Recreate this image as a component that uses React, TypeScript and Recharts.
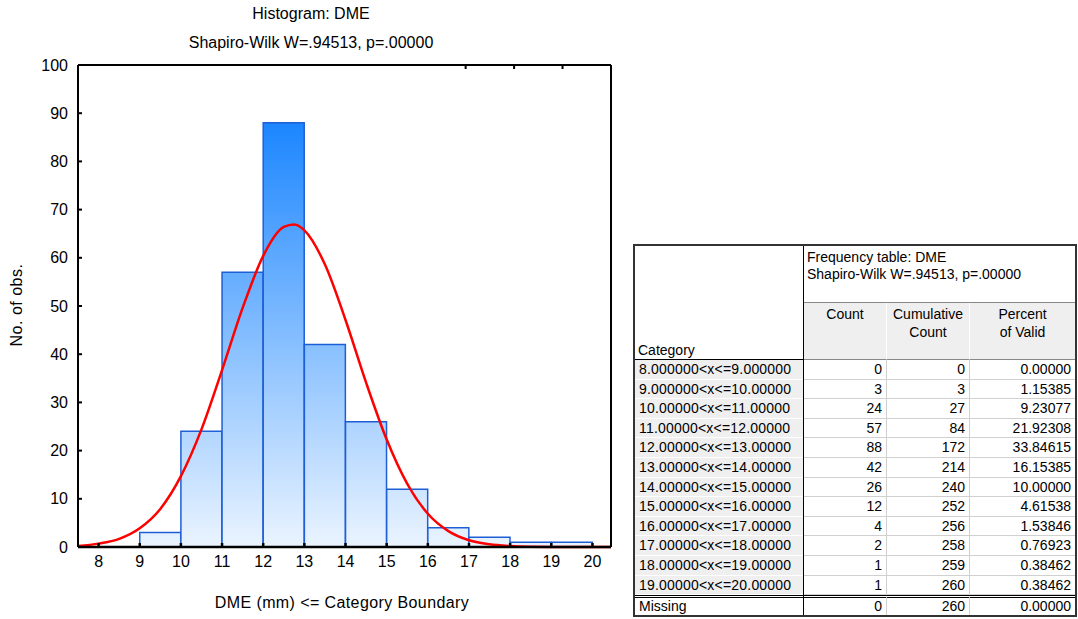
import { Bar, ComposedChart, Line, XAxis, YAxis } from "recharts";

// histogram bins (lower boundary), counts
const binStarts = [8, 9, 10, 11, 12, 13, 14, 15, 16, 17, 18, 19];
const counts = [0, 3, 24, 57, 88, 42, 26, 12, 4, 2, 1, 1];
const cumulative = [0, 3, 27, 84, 172, 214, 240, 252, 256, 258, 259, 260];
const percentValid = [
	"0.00000", "1.15385", "9.23077", "21.92308", "33.84615", "16.15385",
	"10.00000", "4.61538", "1.53846", "0.76923", "0.38462", "0.38462",
];
const categoryLabels = [
	"8.000000<x<=9.000000",
	"9.000000<x<=10.00000",
	"10.00000<x<=11.00000",
	"11.00000<x<=12.00000",
	"12.00000<x<=13.00000",
	"13.00000<x<=14.00000",
	"14.00000<x<=15.00000",
	"15.00000<x<=16.00000",
	"16.00000<x<=17.00000",
	"17.00000<x<=18.00000",
	"18.00000<x<=19.00000",
	"19.00000<x<=20.00000",
];
const missing = { count: 0, cumulative: 260, percent: "0.00000" };

// fitted normal curve
const curveX = [7.5, 8, 8.5, 9, 9.5, 10, 10.5, 11, 11.5, 12, 12.5, 12.75, 13, 13.5, 14, 14.5, 15, 15.5, 16, 16.5, 17, 17.5, 18, 18.5, 19, 19.5, 20, 20.45];
const curveY = [0.2, 0.7, 1.7, 3.9, 7.9, 14.7, 24.4, 36.7, 49.6, 60.4, 66.4, 66.9, 65.7, 58.6, 47.1, 34.1, 22.3, 13.1, 6.9, 3.3, 1.4, 0.55, 0.2, 0.06, 0.02, 0, 0, 0];

const xTicks = [8, 9, 10, 11, 12, 13, 14, 15, 16, 17, 18, 19, 20];
const yTicks = [0, 10, 20, 30, 40, 50, 60, 70, 80, 90, 100];

const X_MIN = 7.5;
const X_MAX = 20.45;

const CHART_W = 620;
const CHART_H = 619;
const PLOT_LEFT = 78;
const PLOT_RIGHT = 611;
const PLOT_TOP = 65;
const PLOT_BOTTOM = 547;

const FONT = "'Liberation Sans', Arial, sans-serif";

const bins = binStarts.map((b, i) => ({ bin: `${b}`, count: counts[i] }));
const curve = curveX.map((x, i) => ({ x, y: curveY[i] }));

const pxPerUnit = (PLOT_RIGHT - PLOT_LEFT) / (X_MAX - X_MIN);
const padLeft = (binStarts[0] - X_MIN) * pxPerUnit;
const padRight = (X_MAX - (binStarts[binStarts.length - 1] + 1)) * pxPerUnit;

const blank = () => "";

function Histogram() {
	return (
		<ComposedChart
			width={CHART_W}
			height={CHART_H}
			data={bins}
			barCategoryGap={0}
			barGap={0}
			margin={{
				top: PLOT_TOP - 1,
				right: CHART_W - PLOT_RIGHT - 1,
				bottom: CHART_H - PLOT_BOTTOM - 30,
				left: 0,
			}}
		>
			<defs>
				<linearGradient
					id="barFill"
					x1="0"
					y1={PLOT_TOP}
					x2="0"
					y2={PLOT_BOTTOM}
					gradientUnits="userSpaceOnUse"
				>
					<stop offset="0%" stopColor="#0077ff" />
					<stop offset="100%" stopColor="#eaf4ff" />
				</linearGradient>
			</defs>
			<XAxis
				xAxisId="num"
				dataKey="x"
				type="number"
				domain={[X_MIN, X_MAX]}
				ticks={xTicks}
				interval={0}
				allowDataOverflow
				height={30}
				tickSize={-4}
				tickMargin={13}
				stroke="#000"
				strokeWidth={2.5}
				tick={{ fill: "#000", fontSize: 16, fontFamily: FONT }}
			/>
			<XAxis
				xAxisId="bins"
				dataKey="bin"
				type="category"
				hide
				height={0}
				padding={{ left: padLeft, right: padRight }}
			/>
			<XAxis
				xAxisId="top"
				orientation="top"
				type="number"
				domain={[X_MIN, X_MAX]}
				ticks={xTicks}
				interval={0}
				allowDataOverflow
				height={1}
				tickSize={-4}
				tickFormatter={blank}
				stroke="#000"
				strokeWidth={2}
			/>
			<YAxis
				yAxisId="left"
				domain={[0, 100]}
				ticks={yTicks}
				interval={0}
				width={PLOT_LEFT}
				tickSize={-4}
				tickMargin={14}
				stroke="#000"
				strokeWidth={2}
				tick={{ fill: "#000", fontSize: 16, fontFamily: FONT }}
			/>
			<YAxis
				yAxisId="right"
				orientation="right"
				domain={[0, 100]}
				ticks={yTicks}
				interval={0}
				width={1}
				tickSize={-4}
				tickFormatter={blank}
				stroke="#000"
				strokeWidth={2}
			/>
			<Bar
				xAxisId="bins"
				yAxisId="left"
				dataKey="count"
				fill="url(#barFill)"
				stroke="#1f5fd6"
				strokeWidth={1.5}
				isAnimationActive={false}
			/>
			<Line
				xAxisId="num"
				yAxisId="left"
				data={curve}
				dataKey="y"
				type="monotone"
				stroke="#ff0000"
				strokeWidth={2.5}
				dot={false}
				activeDot={false}
				isAnimationActive={false}
			/>
		</ComposedChart>
	);
}

const COL_X = [0, 169, 252, 335, 440];
const HEAD1 = 57;
const HEAD2 = 114;
const ROW_H = 19.6;

function FrequencyTable() {
	const cell = (
		left: number,
		top: number,
		width: number,
		height: number,
		extra: React.CSSProperties,
		content: React.ReactNode,
		key?: string,
	) => (
		<div
			key={key}
			style={{
				position: "absolute",
				left,
				top,
				width,
				height,
				boxSizing: "border-box",
				overflow: "hidden",
				whiteSpace: "nowrap",
				...extra,
			}}
		>
			{content}
		</div>
	);

	const rows = categoryLabels.map((label, i) => {
		const top = HEAD2 + i * ROW_H;
		const numStyle: React.CSSProperties = {
			background: "#fff",
			borderRight: "1px solid #d0d0d0",
			borderBottom: "1px solid #d0d0d0",
			textAlign: "right",
			paddingRight: 4,
			lineHeight: `${ROW_H}px`,
		};
		return [
			cell(0, top, COL_X[1], ROW_H, {
				background: "#efefef",
				borderBottom: "1px solid #fff",
				paddingLeft: 4,
				lineHeight: `${ROW_H}px`,
				letterSpacing: 0.2,
			}, label, `c${i}`),
			cell(COL_X[1], top, COL_X[2] - COL_X[1], ROW_H, numStyle, counts[i], `n${i}`),
			cell(COL_X[2], top, COL_X[3] - COL_X[2], ROW_H, numStyle, cumulative[i], `k${i}`),
			cell(COL_X[3], top, COL_X[4] - COL_X[3], ROW_H, { ...numStyle, borderRight: "none" }, percentValid[i], `p${i}`),
		];
	});

	const missTop = HEAD2 + categoryLabels.length * ROW_H;
	const missH = 369 - missTop;
	const missStyle: React.CSSProperties = {
		background: "#fff",
		borderTop: "3px double #000",
		borderRight: "1px solid #d0d0d0",
		textAlign: "right",
		paddingRight: 4,
		lineHeight: `${missH - 3}px`,
	};

	const headStyle: React.CSSProperties = {
		background: "#efefef",
		borderRight: "1px solid #fff",
		borderBottom: "1px solid #888",
		textAlign: "center",
		lineHeight: "18px",
		paddingTop: 2,
		whiteSpace: "normal",
	};

	return (
		<div
			style={{
				position: "absolute",
				left: 633,
				top: 244,
				width: 444,
				height: 373,
				border: "2px solid #333",
				boxSizing: "border-box",
				fontFamily: FONT,
				fontSize: 14,
				color: "#000",
				background: "#fff",
			}}
		>
			{cell(0, 0, COL_X[1], HEAD2, {
				borderBottom: "1px solid #000",
				paddingLeft: 3,
				display: "flex",
				alignItems: "flex-end",
				paddingBottom: 1,
			}, "Category")}
			{cell(COL_X[1], 0, COL_X[4] - COL_X[1], HEAD1, {
				borderBottom: "1px solid #888",
				paddingLeft: 3,
				paddingTop: 3,
				lineHeight: "17px",
				whiteSpace: "normal",
			}, (
				<>
					Frequency table: DME
					<br />
					Shapiro-Wilk W=.94513, p=.00000
				</>
			))}
			{cell(COL_X[1], HEAD1, COL_X[2] - COL_X[1], HEAD2 - HEAD1, headStyle, "Count")}
			{cell(COL_X[2], HEAD1, COL_X[3] - COL_X[2], HEAD2 - HEAD1, headStyle, (
				<>
					Cumulative
					<br />
					Count
				</>
			))}
			{cell(COL_X[3], HEAD1, COL_X[4] - COL_X[3], HEAD2 - HEAD1, { ...headStyle, borderRight: "none" }, (
				<>
					Percent
					<br />
					of Valid
				</>
			))}
			{rows}
			{cell(0, missTop, COL_X[1], missH, {
				background: "#fff",
				borderTop: "3px double #000",
				paddingLeft: 4,
				lineHeight: `${missH - 3}px`,
			}, "Missing")}
			{cell(COL_X[1], missTop, COL_X[2] - COL_X[1], missH, missStyle, missing.count)}
			{cell(COL_X[2], missTop, COL_X[3] - COL_X[2], missH, missStyle, missing.cumulative)}
			{cell(COL_X[3], missTop, COL_X[4] - COL_X[3], missH, { ...missStyle, borderRight: "none" }, missing.percent)}
			{/* divider between category column and the rest */}
			<div
				style={{
					position: "absolute",
					left: COL_X[1] - 1,
					top: 0,
					width: 1,
					height: 369,
					background: "#000",
				}}
			/>
		</div>
	);
}

export default function App() {
	const text: React.CSSProperties = {
		position: "absolute",
		fontFamily: FONT,
		fontSize: 16,
		color: "#000",
		whiteSpace: "nowrap",
		textAlign: "center",
	};
	return (
		<div
			style={{
				position: "absolute",
				left: 0,
				top: 0,
				width: 1078,
				height: 619,
				background: "#fff",
				overflow: "hidden",
			}}
		>
			<Histogram />
			<div style={{ ...text, left: 111, width: 400, top: 4, lineHeight: "20px" }}>
				Histogram: DME
			</div>
			<div style={{ ...text, left: 111, width: 400, top: 33, lineHeight: "20px" }}>
				Shapiro-Wilk W=.94513, p=.00000
			</div>
			<div style={{ ...text, left: 142, width: 400, top: 593, lineHeight: "20px", letterSpacing: 0.4 }}>
				DME (mm) &lt;= Category Boundary
			</div>
			<div
				style={{
					...text,
					left: 17 - 100,
					width: 200,
					top: 305 - 10,
					lineHeight: "20px",
					letterSpacing: 0.5,
					transform: "rotate(-90deg)",
				}}
			>
				No. of obs.
			</div>
			<FrequencyTable />
		</div>
	);
}
